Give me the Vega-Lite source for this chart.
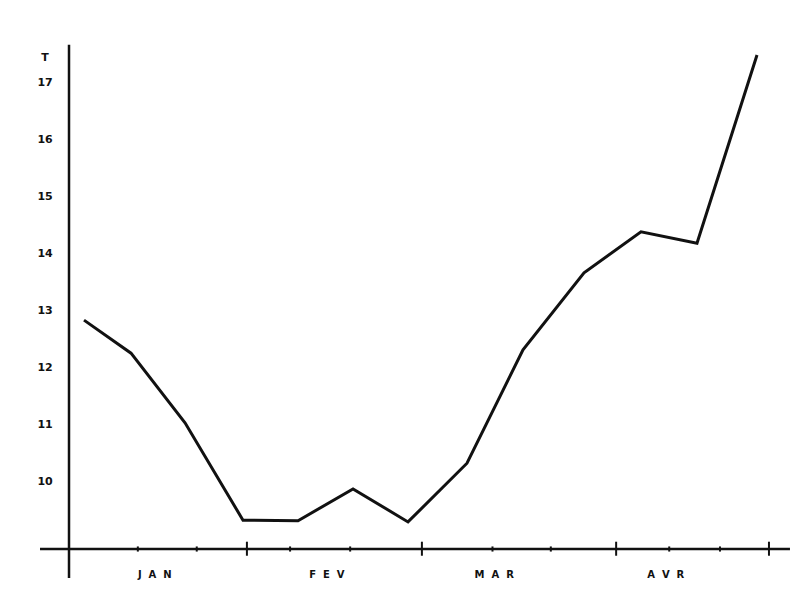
{
  "$schema": "https://vega.github.io/schema/vega-lite/v6.json",
  "width": 800,
  "height": 612,
  "autosize": {"type": "fit", "contains": "padding"},
  "padding": 0,
  "background": "white",
  "config": {"view": {"stroke": null}},
  "datasets": {
    "series": [
      {"day": 2.57, "temp": 12.84},
      {"day": 10.63, "temp": 12.26},
      {"day": 19.89, "temp": 11.04},
      {"day": 29.83, "temp": 9.33},
      {"day": 39.26, "temp": 9.32},
      {"day": 48.69, "temp": 9.88},
      {"day": 58.12, "temp": 9.3},
      {"day": 68.23, "temp": 10.33},
      {"day": 77.83, "temp": 12.32},
      {"day": 88.29, "temp": 13.67},
      {"day": 98.06, "temp": 14.39},
      {"day": 107.66, "temp": 14.19},
      {"day": 117.95, "temp": 17.49}
    ],
    "axes": [
      {"x1": 0, "x2": 0, "y1": 8.316, "y2": 17.67},
      {"x1": -4.97, "x2": 123.6, "y1": 8.825, "y2": 8.825}
    ],
    "ticks": [
      {"day": 30.5, "kind": "major"},
      {"day": 60.5, "kind": "major"},
      {"day": 93.8, "kind": "major"},
      {"day": 120, "kind": "major"},
      {"day": 11.8, "kind": "minor"},
      {"day": 21.9, "kind": "minor"},
      {"day": 37.9, "kind": "minor"},
      {"day": 48.2, "kind": "minor"},
      {"day": 72.6, "kind": "minor"},
      {"day": 82.6, "kind": "minor"},
      {"day": 102.9, "kind": "minor"},
      {"day": 111.6, "kind": "minor"}
    ],
    "ylabels": [
      {"temp": 17.44, "label": "T"},
      {"temp": 17, "label": "17"},
      {"temp": 16, "label": "16"},
      {"temp": 15, "label": "15"},
      {"temp": 14, "label": "14"},
      {"temp": 13, "label": "13"},
      {"temp": 12, "label": "12"},
      {"temp": 11, "label": "11"},
      {"temp": 10, "label": "10"}
    ],
    "months": [
      {"day": 14.7, "label": "J\u00a0\u00a0A\u00a0\u00a0N"},
      {"day": 44.2, "label": "F\u00a0\u00a0E\u00a0\u00a0V"},
      {"day": 72.9, "label": "M\u00a0\u00a0A\u00a0\u00a0R"},
      {"day": 102.3, "label": "A\u00a0\u00a0V\u00a0\u00a0R"}
    ]
  },
  "layer": [
    {
      "data": {"name": "axes"},
      "mark": {"type": "rule", "color": "#111111", "strokeWidth": 2.5},
      "encoding": {
        "x": {"field": "x1", "type": "quantitative", "scale": {"domain": [-11.83, 125.32], "nice": false, "zero": false}, "axis": null},
        "x2": {"field": "x2"},
        "y": {"field": "y1", "type": "quantitative", "scale": {"domain": [7.72, 18.456], "nice": false, "zero": false}, "axis": null},
        "y2": {"field": "y2"}
      }
    },
    {
      "data": {"name": "ticks"},
      "transform": [{"filter": "datum.kind == 'major'"}],
      "mark": {"type": "rule", "color": "#111111", "strokeWidth": 2},
      "encoding": {
        "x": {"field": "day", "type": "quantitative"},
        "y": {"datum": 8.953, "type": "quantitative"},
        "y2": {"datum": 8.707}
      }
    },
    {
      "data": {"name": "ticks"},
      "transform": [{"filter": "datum.kind == 'minor'"}],
      "mark": {"type": "rule", "color": "#111111", "strokeWidth": 2},
      "encoding": {
        "x": {"field": "day", "type": "quantitative"},
        "y": {"datum": 8.87, "type": "quantitative"},
        "y2": {"datum": 8.78}
      }
    },
    {
      "data": {"name": "series"},
      "mark": {"type": "line", "color": "#111111", "strokeWidth": 3, "strokeJoin": "miter"},
      "encoding": {
        "x": {"field": "day", "type": "quantitative"},
        "y": {"field": "temp", "type": "quantitative"}
      }
    },
    {
      "data": {"name": "ylabels"},
      "mark": {"type": "text", "font": "DejaVu Sans", "fontWeight": "bold", "fontSize": 11, "color": "#111111", "align": "center", "baseline": "middle"},
      "encoding": {
        "x": {"datum": -4.1, "type": "quantitative"},
        "y": {"field": "temp", "type": "quantitative"},
        "text": {"field": "label"}
      }
    },
    {
      "data": {"name": "months"},
      "mark": {"type": "text", "font": "DejaVu Sans", "fontWeight": "bold", "fontSize": 10, "color": "#111111", "align": "center", "baseline": "middle"},
      "encoding": {
        "x": {"field": "day", "type": "quantitative"},
        "y": {"datum": 8.37, "type": "quantitative"},
        "text": {"field": "label"}
      }
    }
  ]
}
